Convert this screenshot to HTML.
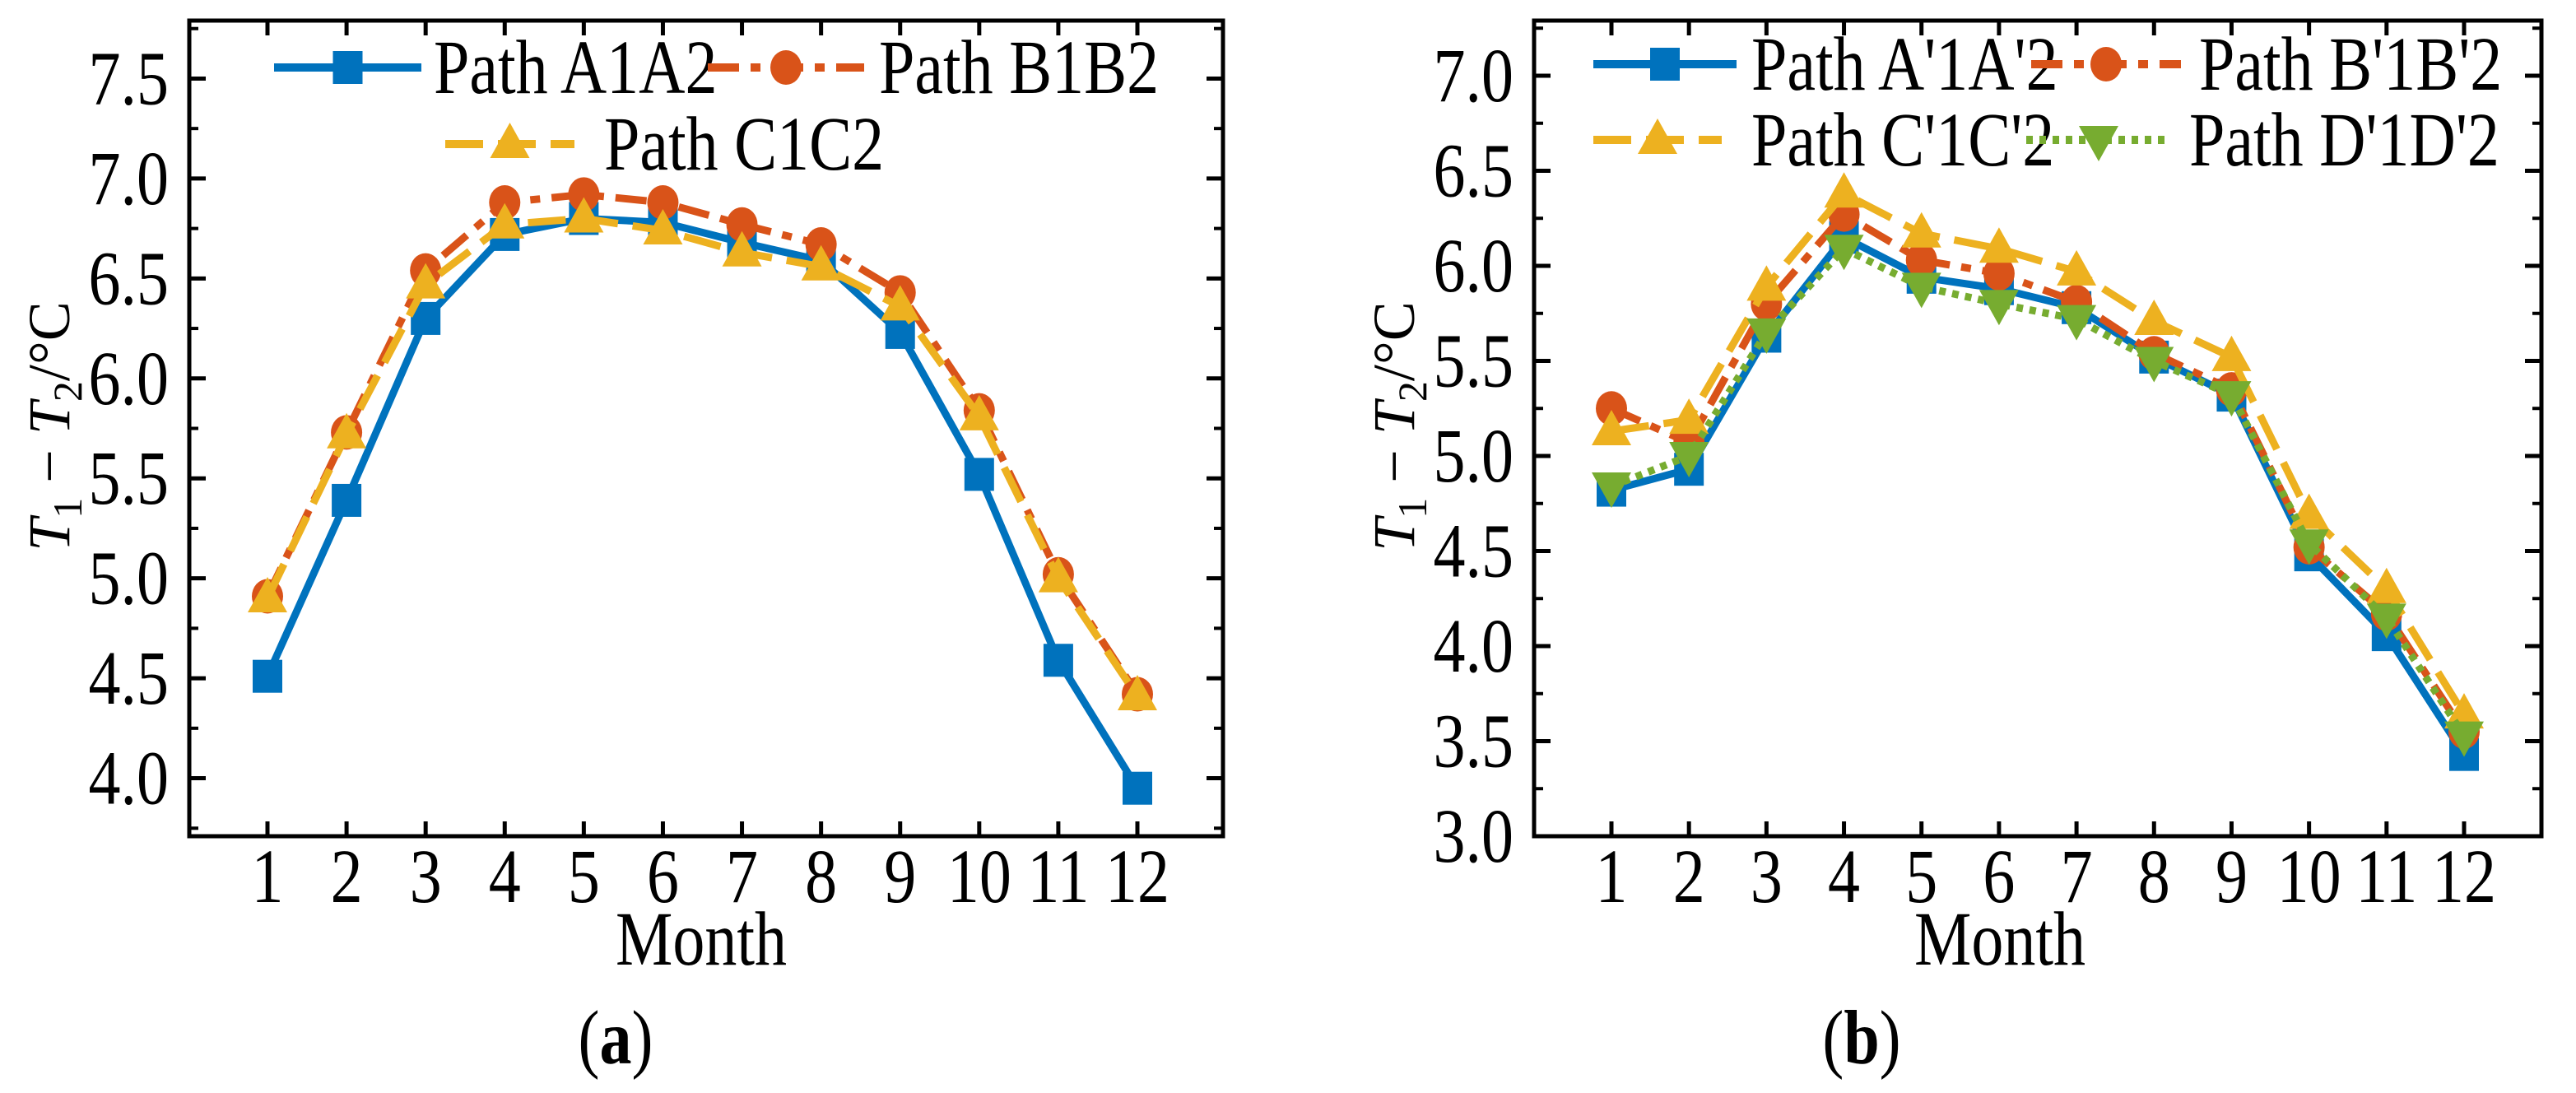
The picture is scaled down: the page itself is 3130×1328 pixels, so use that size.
<!DOCTYPE html>
<html><head><meta charset="utf-8"><style>
html,body{margin:0;padding:0;background:#fff;overflow:hidden;}
svg{display:block;font-family:"Liberation Serif",serif;}
</style></head><body>
<svg id="chart" width="3130" height="1328" viewBox="0 0 3130 1328" xmlns="http://www.w3.org/2000/svg"></svg>
<script>
const months = [1,2,3,4,5,6,7,8,9,10,11,12];
const aA = [4.51,5.39,6.30,6.72,6.80,6.78,6.68,6.59,6.23,5.52,4.59,3.95];
const aB = [4.91,5.73,6.54,6.88,6.92,6.88,6.77,6.67,6.43,5.84,5.02,4.42];
const aC = [4.90,5.72,6.47,6.77,6.80,6.74,6.63,6.56,6.36,5.81,5.00,4.41];
const bA = [4.82,4.93,5.63,6.15,5.94,5.88,5.78,5.52,5.32,4.48,4.06,3.43];
const bB = [5.25,5.07,5.80,6.27,6.03,5.96,5.81,5.54,5.35,4.52,4.17,3.55];
const bC = [5.13,5.19,5.89,6.38,6.17,6.09,5.97,5.71,5.52,4.69,4.30,3.64];
const bD = [4.84,5.00,5.65,6.09,5.89,5.80,5.72,5.50,5.32,4.54,4.15,3.53];
const aTicks = ["4.0","4.5","5.0","5.5","6.0","6.5","7.0","7.5"];
const bTicks = ["3.0","3.5","4.0","4.5","5.0","5.5","6.0","6.5","7.0"];
const aNames = ["Path A1A2","Path B1B2","Path C1C2"];
const bNames = ["Path A'1A'2","Path B'1B'2","Path C'1C'2","Path D'1D'2"];

const NS="http://www.w3.org/2000/svg";
const svg=document.getElementById('chart');
function mk(tag,attrs,parent){const e=document.createElementNS(NS,tag);for(const k in attrs)e.setAttribute(k,attrs[k]);(parent||svg).appendChild(e);return e;}
function txt(parent,x,y,anchor,extra){
  const a={transform:`translate(${x},${y}) scale(1,1.2)`,'font-size':FS,'text-anchor':anchor,fill:'#000'};
  for(const k in (extra||{}))a[k]=extra[k];
  return mk('text',a,parent);
}
const COL={A:"#0072BD",B:"#D95319",C:"#EDB120",D:"#77AC30"};
const DASH={A:"none",B:"38 14 12 14",C:"46 18",D:"8 8"};
const FS=78;

function marker(g,kind,x,y){
  let m;
  if(kind==='A'){m=mk('rect',{x:x-18,y:y-20,width:36,height:40,fill:COL.A},g);}
  else if(kind==='B'){m=mk('ellipse',{cx:x,cy:y,rx:19,ry:21,fill:COL.B},g);}
  else if(kind==='C'){m=mk('polygon',{points:`${x},${y-26} ${x+24},${y+17} ${x-24},${y+17}`,fill:COL.C},g);}
  else {m=mk('polygon',{points:`${x},${y+26} ${x+24},${y-17} ${x-24},${y-17}`,fill:COL.D},g);}
  
  
}

function panel(cfg){
  const g=mk('g',{});
  
  
  const {L,R,T,B,ymin,ymax,x1,x12}=cfg;
  const ys=v=>B-(v-ymin)/(ymax-ymin)*(B-T);
  const xs=m=>x1+(m-1)*(x12-x1)/11;
  cfg.ticks.forEach(t=>{
    const v=parseFloat(t), y=ys(v);
    mk('line',{x1:L,x2:L+20,y1:y,y2:y,stroke:'#000','stroke-width':5},g);
    mk('line',{x1:R-20,x2:R,y1:y,y2:y,stroke:'#000','stroke-width':5},g);
    const tx=txt(g,L-25,y+31,'end');
    tx.textContent=t;
    
    
    const ym=ys(v+0.25);
    if(ym>T+2){
      mk('line',{x1:L,x2:L+11,y1:ym,y2:ym,stroke:'#000','stroke-width':4},g);
      mk('line',{x1:R-11,x2:R,y1:ym,y2:ym,stroke:'#000','stroke-width':4},g);
    }
  });
  const ym0=ys(parseFloat(cfg.ticks[0])-0.25);
  if(ym0<B-2){mk('line',{x1:L,x2:L+11,y1:ym0,y2:ym0,stroke:'#000','stroke-width':4},g);mk('line',{x1:R-11,x2:R,y1:ym0,y2:ym0,stroke:'#000','stroke-width':4},g);}
  months.forEach(m=>{
    const x=xs(m);
    mk('line',{x1:x,x2:x,y1:B,y2:B-18,stroke:'#000','stroke-width':5},g);
    mk('line',{x1:x,x2:x,y1:T,y2:T+18,stroke:'#000','stroke-width':5},g);
    const tx=txt(g,x,1096,'middle');
    tx.textContent=m;
    
    
  });
  cfg.series.forEach(s=>{
    const pts=months.map((m,i)=>xs(m)+','+ys(s.vals[i])).join(' ');
    const pl=mk('polyline',{points:pts,fill:'none',stroke:COL[s.k],'stroke-width':9,'stroke-dasharray':DASH[s.k],'stroke-linejoin':'round'},g);
    
    
    months.forEach((m,i)=>marker(g,s.k,xs(m),ys(s.vals[i])));
  });
  mk('rect',{x:L,y:T,width:R-L,height:B-T,fill:'none',stroke:'#000','stroke-width':5},g);
  cfg.legend.forEach(l=>{
    const lg=mk('g',{},g);
    
    
    mk('line',{x1:l.x1,x2:l.x2,y1:l.y,y2:l.y,stroke:COL[l.k],'stroke-width':10,'stroke-dasharray':DASH[l.k]},lg);
    marker(lg,l.k,(l.x1+l.x2)/2,l.y);
    const tx=txt(lg,l.tx,l.y+31,'start');
    tx.textContent=l.label;
  });
  const mt=txt(g,cfg.mx,1172,'middle');
  mt.textContent='Month';
  
  
  const yt=mk('text',{transform:`translate(${cfg.ylx},518) rotate(-90)`,'font-size':72,'text-anchor':'middle',fill:'#000'},g);
  yt.innerHTML='<tspan font-style="italic">T</tspan><tspan font-size="50" dy="15">1</tspan><tspan dy="-15"> − </tspan><tspan font-style="italic">T</tspan><tspan font-size="50" dy="15">2</tspan><tspan dy="-15">/°C</tspan>';
  
  
  const cap=txt(g,cfg.capx,1292,'middle');
  cap.innerHTML='(<tspan font-weight="bold">'+cfg.cap+'</tspan>)';
  
  
}

panel({name:'panel-a',L:230,R:1486,T:25,B:1016,ymin:3.71,ymax:7.79,x1:325,x12:1382,
  ticks:aTicks,ylx:84,capx:748,cap:'a',mx:852,
  series:[{k:'A',vals:aA},{k:'B',vals:aB},{k:'C',vals:aC}],
  legend:[{k:'A',x1:333,x2:512,y:82,tx:527,label:aNames[0]},
          {k:'B',x1:860,x2:1050,y:82,tx:1068,label:aNames[1]},
          {k:'C',x1:541,x2:698,y:175,tx:734,label:aNames[2]}]});
panel({name:'panel-b',L:1864,R:3088,T:25,B:1016,ymin:3.0,ymax:7.29,x1:1958,x12:2994,
  ticks:bTicks,ylx:1718,capx:2262,cap:'b',mx:2430,
  series:[{k:'A',vals:bA},{k:'B',vals:bB},{k:'C',vals:bC},{k:'D',vals:bD}],
  legend:[{k:'A',x1:1936,x2:2110,y:78,tx:2128,label:bNames[0]},
          {k:'B',x1:2468,x2:2650,y:78,tx:2672,label:bNames[1]},
          {k:'C',x1:1936,x2:2092,y:170,tx:2128,label:bNames[2]},
          {k:'D',x1:2462,x2:2638,y:170,tx:2660,label:bNames[3]}]});
</script>
</body></html>
